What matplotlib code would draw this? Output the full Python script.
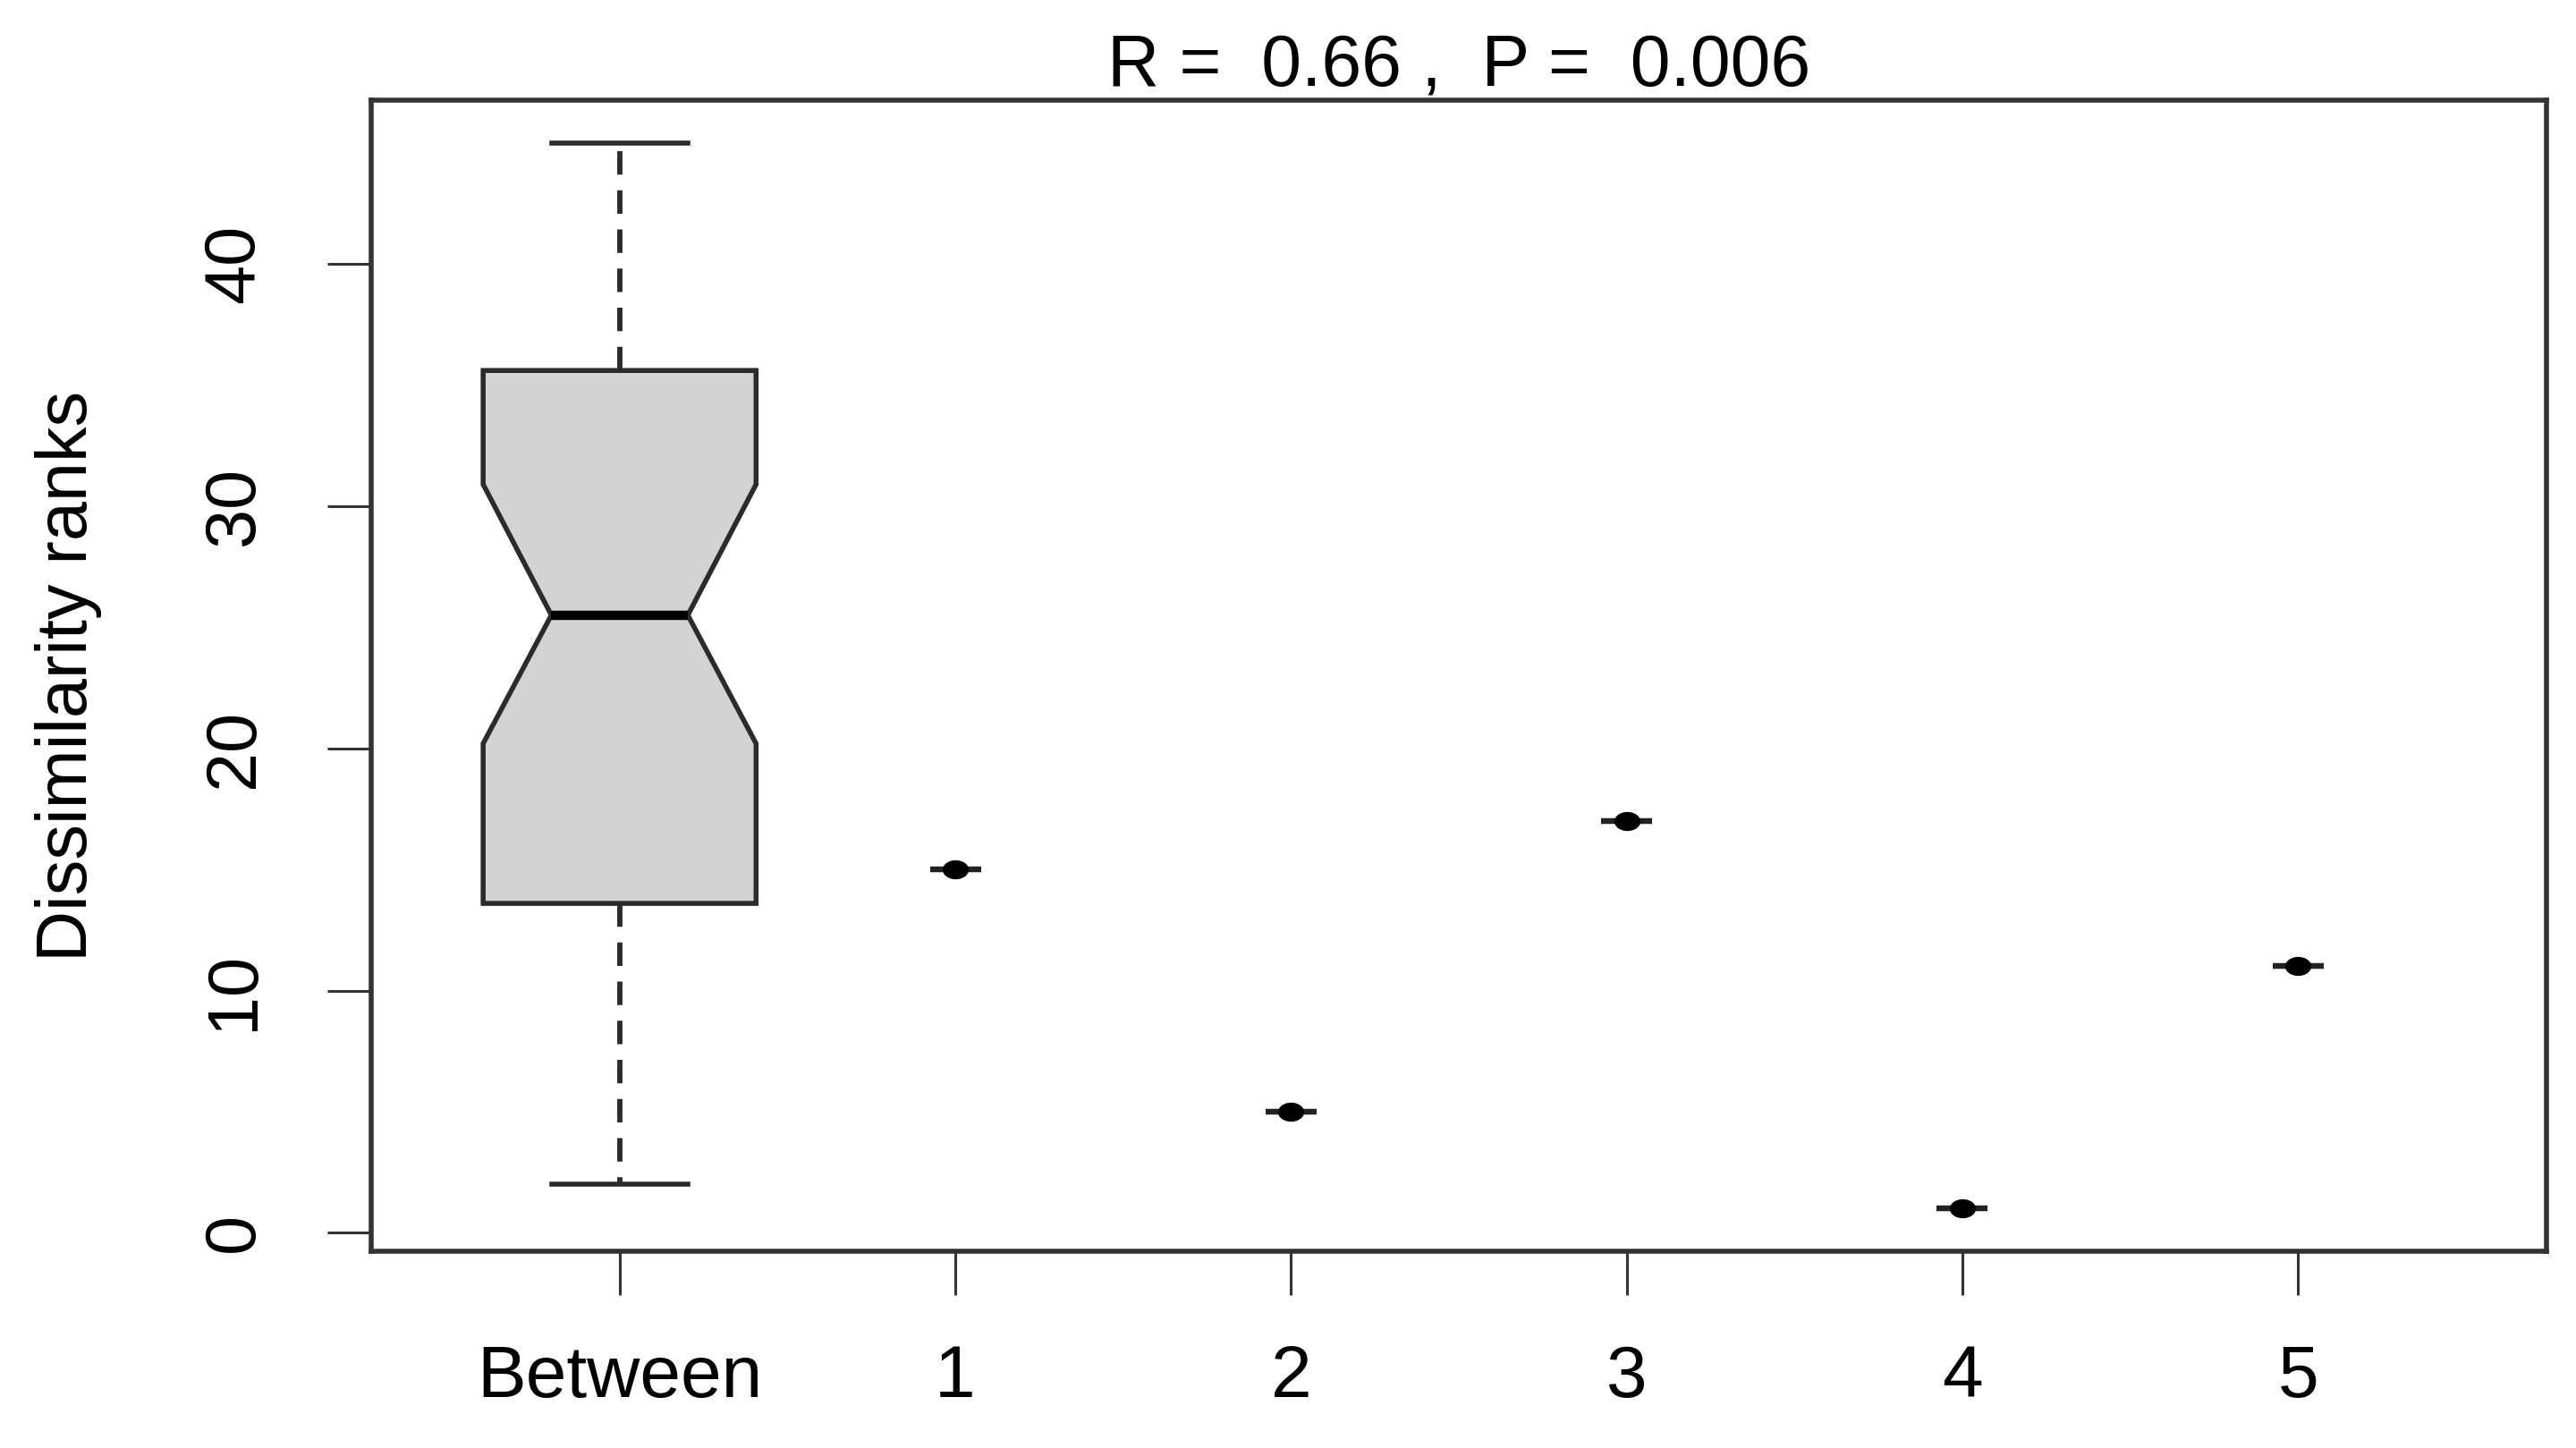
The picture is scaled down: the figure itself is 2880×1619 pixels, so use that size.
import matplotlib
matplotlib.use('Agg')
import matplotlib.pyplot as plt
from matplotlib.path import Path
from matplotlib.transforms import Affine2D

# ---- data ----
categories = ['Between', '1', '2', '3', '4', '5']
between_whislo = 2
between_q1 = 13.6
between_med = 25.5
between_q3 = 35.6
between_whishi = 45
between_cilo = 20.2
between_cihi = 30.9
within_values = [15, 5, 17, 1, 11]
yticks = [0, 10, 20, 30, 40]
title_text = 'R =  0.66 ,  P =  0.006'
ylabel_text = 'Dissimilarity ranks'

plt.rcParams['font.family'] = ['Liberation Sans', 'DejaVu Sans']

W, H = 2880, 1619
fig = plt.figure(figsize=(W / 100, H / 100), dpi=100)
L, R, T, B = 415, 2847, 112, 1399
ax = fig.add_axes([L / W, 1 - B / H, (R - L) / W, (B - T) / H])

edge = '#2b2b2b'
positions = list(range(1, len(categories) + 1))

# Between box (notched)
stats_between = [dict(label=categories[0], whislo=between_whislo, q1=between_q1,
                      med=between_med, q3=between_q3, whishi=between_whishi,
                      cilo=between_cilo, cihi=between_cihi, fliers=[])]
ax.bxp(stats_between, positions=positions[:1], widths=[0.813], capwidths=[0.405],
       shownotches=True, patch_artist=True, showfliers=False,
       boxprops=dict(facecolor='#d3d3d3', edgecolor=edge, linewidth=4),
       medianprops=dict(color='black', linewidth=7.5, solid_capstyle='butt'),
       whiskerprops=dict(color=edge, linewidth=4.2, linestyle=(0, (4.5, 3))),
       capprops=dict(color=edge, linewidth=4))

# Single-value groups
ellipse = Path.unit_circle().transformed(Affine2D().scale(1.4, 1.0))
stats_within = [dict(label=c, whislo=v, q1=v, med=v, q3=v, whishi=v, mean=v, fliers=[])
                for c, v in zip(categories[1:], within_values)]
ax.bxp(stats_within, positions=positions[1:], widths=0.152, showcaps=False,
       showfliers=False, showmeans=True, patch_artist=True,
       boxprops=dict(facecolor='none', edgecolor='#222222', linewidth=4.5),
       medianprops=dict(color='#222222', linewidth=4.5),
       whiskerprops=dict(color='#222222', linewidth=0),
       meanprops=dict(marker=ellipse, markersize=20, markerfacecolor='black',
                      markeredgecolor='black', linestyle='none'))

ax.set_xlim(0.26, 6.74)
ax.set_ylim(-0.76, 46.76)
ax.set_xticks(positions)
ax.set_xticklabels(categories, fontsize=59)
ax.set_yticks(yticks)
ax.set_yticklabels([str(t) for t in yticks], rotation=90, va='center', fontsize=57)

for s in ax.spines.values():
    s.set_linewidth(4)
    s.set_color('#333333')
ax.tick_params(axis='both', length=35, width=2.2, color='#333333')
ax.tick_params(axis='x', pad=40)
ax.tick_params(axis='y', pad=48)

ax.set_title(title_text, fontsize=58, pad=9)
ax.set_ylabel(ylabel_text, fontsize=57)
ax.yaxis.set_label_coords((114 - L) / (R - L), 0.5)

fig.savefig('out.png', dpi=100, facecolor='white')
